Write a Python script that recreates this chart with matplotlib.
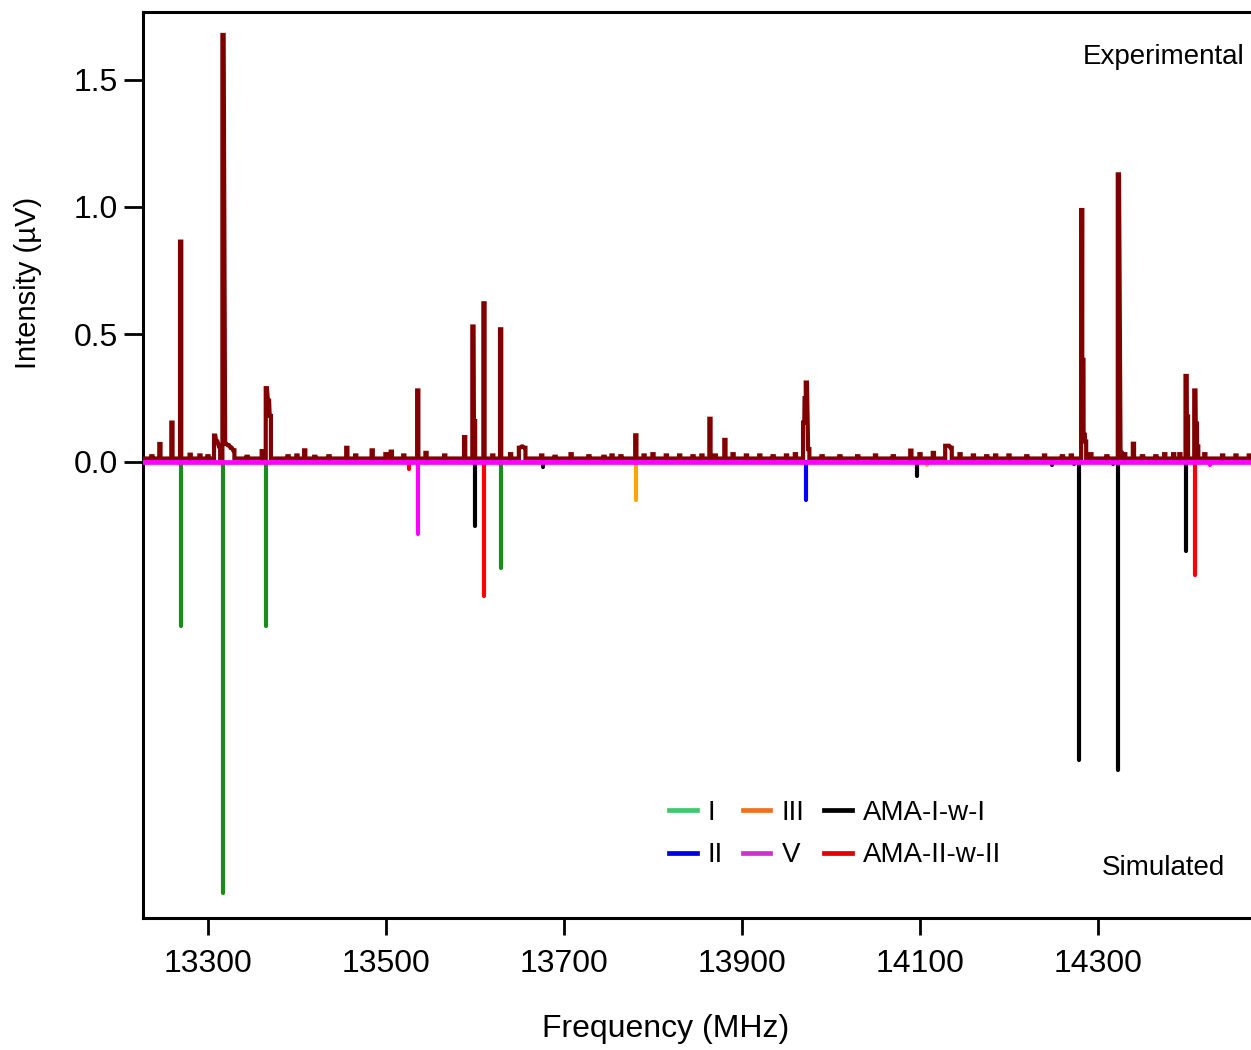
import matplotlib
matplotlib.use("Agg")
import matplotlib.pyplot as plt
from matplotlib.lines import Line2D

plt.rcParams["font.family"] = ["Liberation Sans", "DejaVu Sans"]

# experimental spectrum: baseline level plus peak tops (MHz, uV)
exp_base = 0.013
exp_freq = [13237, 13246, 13259.5, 13269.3, 13280, 13291, 13300, 13307.5, 13310, 13313,
            13316.9, 13320, 13323, 13326, 13329, 13344, 13361, 13365.6, 13368, 13370,
            13390, 13400, 13408.7, 13420, 13436, 13456, 13466, 13484.5, 13500, 13506,
            13520, 13535.7, 13545, 13566, 13588.4, 13597.7, 13599.5, 13610.1, 13620, 13628.8,
            13640, 13650, 13653, 13656, 13675, 13690, 13708, 13728, 13745, 13754,
            13764, 13780.7, 13790, 13800, 13815, 13830, 13845, 13855, 13864, 13870,
            13880.8, 13890, 13905, 13920, 13935, 13950, 13960, 13969.3, 13971, 13972.3,
            13975, 13990, 14010, 14030, 14050, 14070, 14089.7, 14100, 14115, 14129,
            14132, 14135, 14145, 14160, 14175, 14185, 14200, 14220, 14240, 14260,
            14270, 14281.7, 14283, 14284.5, 14286, 14292, 14310, 14322.9, 14326, 14330,
            14339.8, 14350, 14365, 14375, 14385, 14392, 14399, 14400.5, 14408.8, 14410.5,
            14412, 14420, 14440, 14455, 14470]
exp_int = [0.022, 0.07, 0.154, 0.864, 0.028, 0.025, 0.022, 0.103, 0.08, 0.06,
           1.675, 0.07, 0.065, 0.055, 0.045, 0.02, 0.042, 0.289, 0.24, 0.18,
           0.022, 0.025, 0.045, 0.02, 0.022, 0.055, 0.025, 0.045, 0.03, 0.04,
           0.025, 0.28, 0.035, 0.025, 0.097, 0.531, 0.16, 0.622, 0.025, 0.52,
           0.03, 0.055, 0.06, 0.055, 0.025, 0.02, 0.03, 0.022, 0.02, 0.025,
           0.022, 0.104, 0.025, 0.03, 0.025, 0.025, 0.022, 0.025, 0.169, 0.025,
           0.086, 0.03, 0.025, 0.025, 0.022, 0.025, 0.03, 0.154, 0.25, 0.311,
           0.05, 0.022, 0.022, 0.022, 0.025, 0.022, 0.044, 0.03, 0.035, 0.063,
           0.063, 0.055, 0.03, 0.025, 0.022, 0.025, 0.025, 0.022, 0.025, 0.022,
           0.025, 0.988, 0.4, 0.106, 0.08, 0.03, 0.022, 1.128, 0.035, 0.03,
           0.071, 0.022, 0.022, 0.03, 0.03, 0.03, 0.337, 0.178, 0.28, 0.15,
           0.06, 0.03, 0.025, 0.025, 0.025]

# simulated stick spectra (plotted downward)
sim_I_freq = [13269.6, 13316.9, 13365.4, 13628.7]
sim_I_int = [-0.643, -1.690, -0.643, -0.416]
sim_II_freq = [13972.3]
sim_II_int = [-0.149]
sim_III_freq = [13780.7, 14108]
sim_III_int = [-0.149, -0.012]
sim_V_freq = [13536, 14426]
sim_V_int = [-0.282, -0.012]
sim_AMA1_freq = [13600.3, 13676.8, 14096.4, 14248.3, 14273, 14279, 14316.5, 14322.1, 14398.7]
sim_AMA1_int = [-0.251, -0.02, -0.057, -0.012, -0.01, -1.169, -0.01, -1.208, -0.349]
sim_AMA2_freq = [13526, 13610.1, 14408.8]
sim_AMA2_int = [-0.027, -0.525, -0.443]

x_min, x_max = 13227, 14482
y_min, y_max = -1.79, 1.765


def build_trace(freqs, ints, base, w=0.7, join=3.5):
    # flat-topped steps; tops of close neighbours are joined directly
    xs, ys = [x_min], [base]
    prev = None
    for f, h in zip(freqs, ints):
        if prev is None or f - prev > join:
            if prev is not None:
                xs.append(prev + w)
                ys.append(base)
            xs.append(f - w)
            ys.append(base)
        xs += [f - w, f + w]
        ys += [h, h]
        prev = f
    xs += [prev + w, x_max]
    ys += [base, base]
    return xs, ys


fig = plt.figure(figsize=(12.51, 10.5), dpi=100)
ax = fig.add_axes([143 / 1251, 132 / 1050, 1117 / 1251, 906 / 1050])

sticks = [
    (sim_I_freq, sim_I_int, "#1a8c1a"),
    (sim_II_freq, sim_II_int, "#0000ff"),
    (sim_III_freq, sim_III_int, "#ffa500"),
    (sim_V_freq, sim_V_int, "#ff00ff"),
    (sim_AMA1_freq, sim_AMA1_int, "black"),
    (sim_AMA2_freq, sim_AMA2_int, "#ff0000"),
]
for fr, it, col in sticks:
    ax.vlines(fr, 0, it, colors=col, linewidth=3.0, capstyle="round", zorder=2)

tx, ty = build_trace(exp_freq, exp_int, exp_base)
ax.plot(tx, ty, color="#800000", linewidth=3.0, solid_joinstyle="miter", zorder=3)
ax.axhline(0, color="#ff00ff", linewidth=3.4, zorder=4)

ax.set_xlim(x_min, x_max)
ax.set_ylim(y_min, y_max)
ax.set_xticks([13300, 13500, 13700, 13900, 14100, 14300])
ax.set_yticks([0.0, 0.5, 1.0, 1.5])
ax.set_yticklabels(["0.0", "0.5", "1.0", "1.5"])
ax.tick_params(axis="both", labelsize=23, width=2.0, direction="out")
ax.tick_params(axis="y", length=14, pad=4)
ax.tick_params(axis="x", length=12, pad=10)
for sp in ax.spines.values():
    sp.set_linewidth(2.2)

ax.set_xlabel("Frequency (MHz)", fontsize=23)
ax.set_ylabel("Intensity (µV)", fontsize=21)
ax.xaxis.set_label_coords((666 - 143) / 1117, (918 - 1014) / 906)
ax.yaxis.set_label_coords((42 - 143) / 1117, (918 - 283) / 906)

fig.text(1164 / 1251, 1 - 57 / 1050, "Experimental", fontsize=20, ha="center", va="center")
fig.text(1163 / 1251, 1 - 868 / 1050, "Simulated", fontsize=20, ha="center", va="center")

labels = ["I", "II", "III", "V", "AMA-I-w-I", "AMA-II-w-II"]
leg_colors = ["#40c870", "#0000e0", "#f07020", "#d030d0", "black", "#e00000"]
handles = [Line2D([], [], color=c, linewidth=3.4) for c in leg_colors]
fig.legend(handles, labels, ncol=3, loc="center", frameon=False, fontsize=20,
           bbox_to_anchor=(835 / 1251, 1 - 834 / 1050), handlelength=1.0,
           handletextpad=0.4, columnspacing=0.7, labelspacing=0.6)

fig.savefig("out.png", dpi=100)
